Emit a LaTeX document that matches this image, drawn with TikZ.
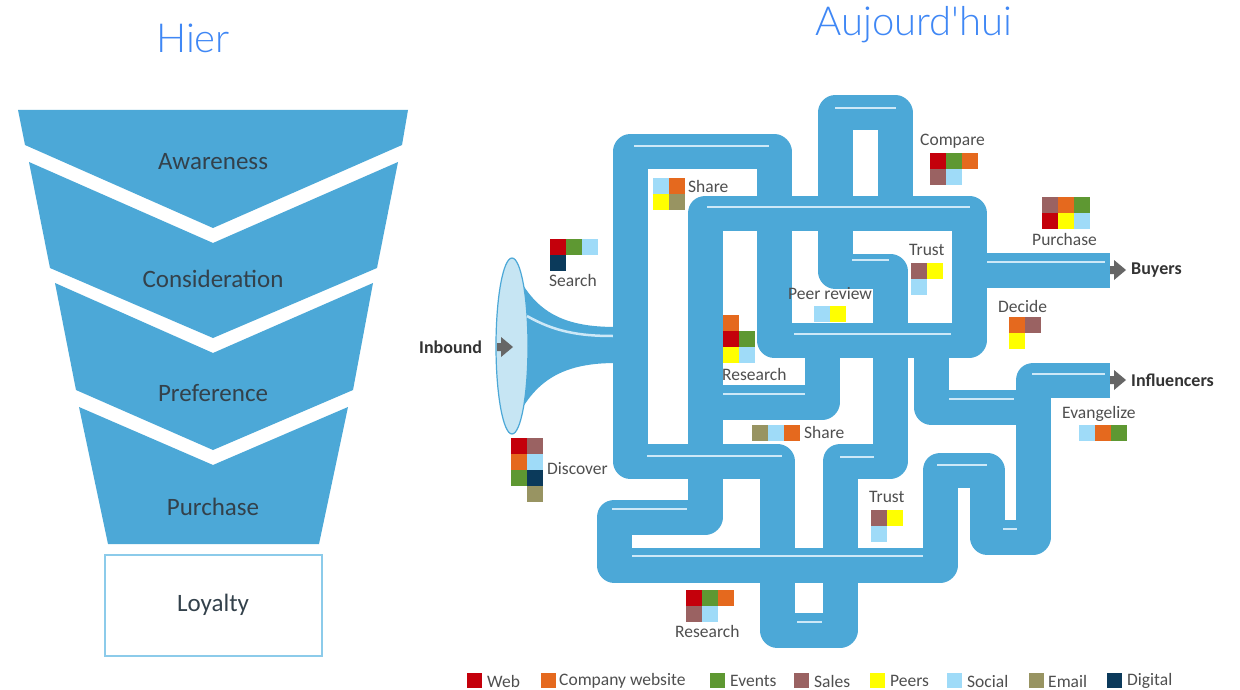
\documentclass[tikz,border=0pt]{standalone}
\usepackage{fontspec}
\setmainfont{Carlito}
\newfontfamily\titlefont{Lato Light}
\definecolor{tube}{HTML}{4CA8D7}
\definecolor{hlc}{HTML}{CDE8F7}
\definecolor{ellfill}{HTML}{C6E5F3}
\definecolor{loyb}{HTML}{8CCBEA}
\definecolor{cweb}{HTML}{C4000B}
\definecolor{ccomp}{HTML}{E5691E}
\definecolor{cevents}{HTML}{5E9832}
\definecolor{csales}{HTML}{9A6262}
\definecolor{cpeers}{HTML}{FFFF00}
\definecolor{csocial}{HTML}{9FDBF8}
\definecolor{cemail}{HTML}{989462}
\definecolor{cdigital}{HTML}{0B3A5B}
\definecolor{titleblue}{HTML}{3F87F5}
\definecolor{ftext}{HTML}{33414B}
\definecolor{mtext}{HTML}{4F4F4F}
\definecolor{btext}{HTML}{333333}
\definecolor{arrowgray}{HTML}{666666}
\newcommand\colsq[3]{\fill[#1] (#2,#3) rectangle ++(15.8,15.8);}
\begin{document}
\begin{tikzpicture}[x=1pt,y=-1pt,
  tubeline/.style={line width=35pt, draw=tube, line join=round},
  hl/.style={line width=2.5pt, draw=hlc},
  lab/.style={font=\fontsize{17.5}{20}\selectfont, text=mtext, inner sep=0pt, anchor=west},
  leg/.style={font=\fontsize{17.5}{20}\selectfont, text=mtext, inner sep=0pt, anchor=west},
  ft/.style={font=\fontsize{25}{30}\selectfont, text=ftext, inner sep=0pt},
  bl/.style={font=\bfseries\fontsize{18}{21}\selectfont, text=btext, inner sep=0pt, anchor=west},
  tt/.style={font=\titlefont\fontsize{40}{48}\selectfont, text=titleblue, inner sep=0pt},
  garr/.pic={\fill[arrowgray] (0,-4) -- (4,-4) -- (4,-10) -- (16,0) -- (4,10) -- (4,4) -- (0,4) -- cycle;}
]
\fill[white] (0,0) rectangle (1240,690);
\useasboundingbox (0,0) rectangle (1240,690);

% titles
\node[tt] (hier) at (193,38) {Hier};
\node[tt] (auj) at (914,25) {Aujourd'hui};

% funnel
\fill[tube] (18,110) -- (408,110) -- (402,145) -- (213,228) -- (25,145) -- cycle;
\fill[tube] (29,162) -- (213,243) -- (398,162) -- (377,268) -- (213,338) -- (50,268) -- cycle;
\fill[tube] (55,283) -- (213,353) -- (373,283) -- (353,390) -- (213,450) -- (76,390) -- cycle;
\fill[tube] (79,407) -- (213,465) -- (348,407) -- (319,544) -- (108,544) -- cycle;
\draw[draw=loyb, line width=1.5pt] (105,555) rectangle (322,656);
\node[ft] (aw) at (213,162) {Awareness};
\node[ft] (co) at (213,279) {Consideration};
\node[ft] (pr) at (213,393) {Preference};
\node[ft] (pu) at (213,507) {Purchase};
\node[ft] (lo) at (213,605) {Loyalty};

% horn
\fill[tube] (516,272) .. controls (536,314) and (566,327) .. (616,327) -- (616,363)
  .. controls (566,363) and (536,378) .. (516,420) -- cycle;
\draw[fill=ellfill, draw=tube, line width=1.2pt] (512,346) ellipse [x radius=16, y radius=88];
\draw[hl] (527,316) .. controls (555,332) and (580,336) .. (613,336);

% maze tubes
\draw[tubeline] (1110,380) -- (1033,380) -- (1033,537) -- (987,537) -- (987,470) -- (940,470)
  -- (940,565) -- (614,565) -- (614,517) -- (705,517) -- (705,213) -- (969,213) -- (969,340)
  -- (774,340) -- (774,152) -- (630,152) -- (630,461) -- (777,461) -- (777,630) -- (840,630)
  -- (840,461) -- (890,461) -- (890,271) -- (835,271) -- (835,113) -- (895,113) -- (895,213);
\draw[tubeline] (705,402) -- (822,402) -- (822,340);
\draw[tubeline] (931,340) -- (931,407) -- (1033,407);
\draw[tubeline] (969,270) -- (1110,270);

% highlights
\draw[hl] (634,146) -- (769,146);
\draw[hl] (835,108) -- (896,108);
\draw[hl] (707,207) -- (970,207);
\draw[hl] (852,260) -- (889,260);
\draw[hl] (794,334) -- (951,334);
\draw[hl] (723,394) -- (805,394);
\draw[hl] (987,262) -- (1105,262);
\draw[hl] (647,456) -- (782,456);
\draw[hl] (840,457) -- (874,457);
\draw[hl] (612,509) -- (687,509);
\draw[hl] (632,556) -- (923,556);
\draw[hl] (949,399) -- (1014,399);
\draw[hl] (937,465) -- (987,465);
\draw[hl] (1003,529) -- (1017,529);
\draw[hl] (1032,374) -- (1105,374);
\draw[hl] (797,622) -- (822,622);

% arrows
\pic at (497,347) {garr};
\pic at (1110,270) {garr};
\pic at (1110,380) {garr};
\node[bl] (inb) at (419,347) {Inbound};
\node[bl] (buy) at (1131,270) {Buyers};
\node[bl] (inf) at (1131,380) {Influencers};

% squares
\colsq{cweb}{550}{239}\colsq{cevents}{566}{239}\colsq{csocial}{582}{239}\colsq{cdigital}{550}{255}
\node[lab] (search) at (549,280) {Search};
\colsq{cweb}{511}{438}\colsq{csales}{527}{438}\colsq{ccomp}{511}{454}\colsq{csocial}{527}{454}
\colsq{cevents}{511}{470}\colsq{cdigital}{527}{470}\colsq{cemail}{527}{486}
\node[lab] (disc) at (547,469) {Discover};
\colsq{csocial}{653}{178}\colsq{ccomp}{669}{178}\colsq{cpeers}{653}{194}\colsq{cemail}{669}{194}
\node[lab] (share1) at (688,186) {Share};
\colsq{cweb}{930}{153}\colsq{cevents}{946}{153}\colsq{ccomp}{962}{153}\colsq{csales}{930}{169}\colsq{csocial}{946}{169}
\node[lab] (comp) at (920,141) {Compare};
\colsq{csales}{1042}{197}\colsq{ccomp}{1058}{197}\colsq{cevents}{1074}{197}
\colsq{cweb}{1042}{213}\colsq{cpeers}{1058}{213}\colsq{csocial}{1074}{213}
\node[lab] (purch) at (1032,239) {Purchase};
\colsq{csales}{911}{263}\colsq{cpeers}{927}{263}\colsq{csocial}{911}{279}
\node[lab] (trust1) at (909,250) {Trust};
\colsq{csocial}{814}{306}\colsq{cpeers}{830}{306}
\node[lab] (peer) at (788,294) {Peer review};
\colsq{ccomp}{1009}{317}\colsq{csales}{1025}{317}\colsq{cpeers}{1009}{333}
\node[lab] (dec) at (998,306) {Decide};
\colsq{ccomp}{723}{315}\colsq{cweb}{723}{331}\colsq{cevents}{739}{331}\colsq{cpeers}{723}{347}\colsq{csocial}{739}{347}
\node[lab] (res1) at (722,374) {Research};
\colsq{cemail}{752}{425}\colsq{csocial}{768}{425}\colsq{ccomp}{784}{425}
\node[lab] (share2) at (804,432) {Share};
\colsq{csales}{871}{510}\colsq{cpeers}{887}{510}\colsq{csocial}{871}{526}
\node[lab] (trust2) at (869,497) {Trust};
\colsq{csocial}{1079}{425}\colsq{ccomp}{1095}{425}\colsq{cevents}{1111}{425}
\node[lab] (evan) at (1062,414) {Evangelize};
\colsq{cweb}{686}{590}\colsq{cevents}{702}{590}\colsq{ccomp}{718}{590}\colsq{csales}{686}{606}\colsq{csocial}{702}{606}
\node[lab] (res2) at (675,631) {Research};

% legend
\fill[cweb] (467,673) rectangle ++(15,15);
\node[leg] (lweb) at (487,681) {Web};
\fill[ccomp] (541,673) rectangle ++(15,15);
\node[leg] (lcomp) at (559,681) {Company website};
\fill[cevents] (710,673) rectangle ++(15,15);
\node[leg] (lev) at (730,681) {Events};
\fill[csales] (794,673) rectangle ++(15,15);
\node[leg] (lsal) at (814,681) {Sales};
\fill[cpeers] (870,673) rectangle ++(15,15);
\node[leg] (lpeer) at (890,681) {Peers};
\fill[csocial] (947,673) rectangle ++(15,15);
\node[leg] (lsoc) at (967,681) {Social};
\fill[cemail] (1029,673) rectangle ++(15,15);
\node[leg] (lem) at (1048,681) {Email};
\fill[cdigital] (1107,673) rectangle ++(15,15);
\node[leg] (ldig) at (1127,681) {Digital};
\end{tikzpicture}
\end{document}
